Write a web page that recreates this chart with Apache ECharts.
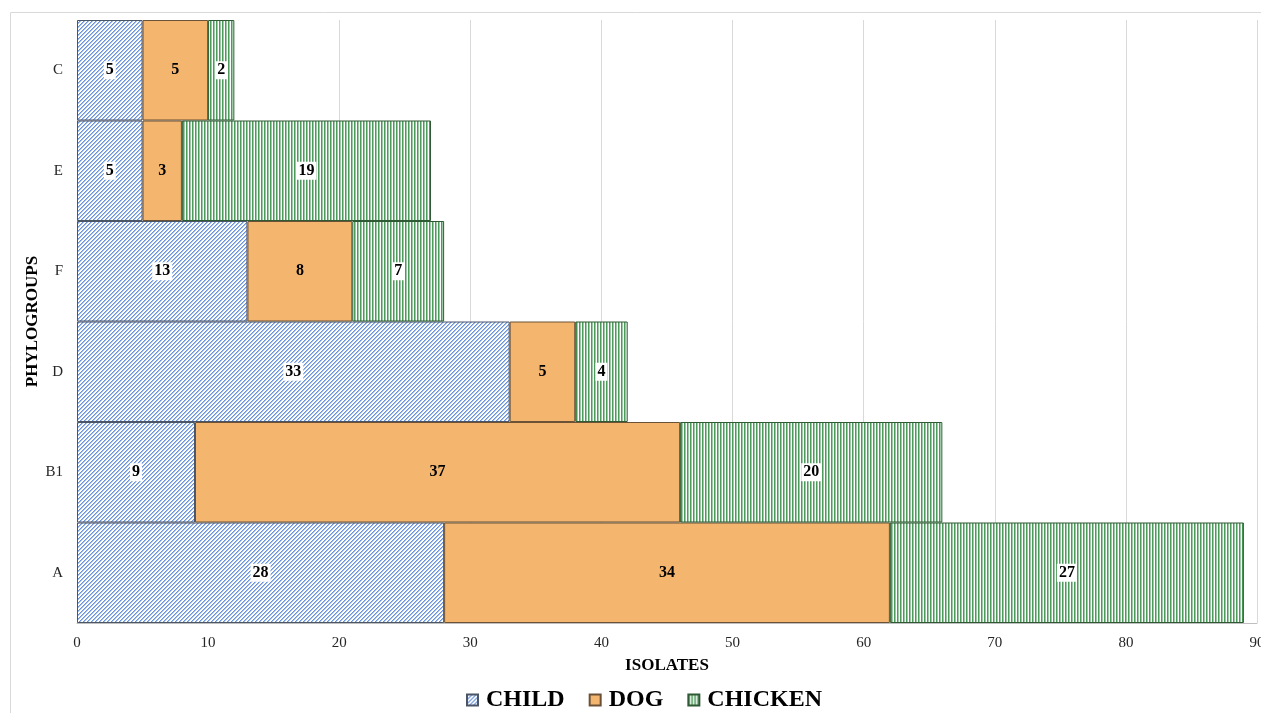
<!DOCTYPE html>
<html><head><meta charset="utf-8">
<script src="https://cdn.jsdelivr.net/npm/echarts@6/dist/echarts.min.js"></script>
<style>html,body{margin:0;padding:0;background:#fff;overflow:hidden}#c{width:1261px;height:713px}</style>
</head><body><div id="c"></div>
<script>
const categories = ['A','B1','D','F','E','C'];
const child = [28, 9, 33, 13, 5, 5];
const dog = [34, 37, 5, 8, 3, 5];
const chicken = [27, 20, 4, 7, 19, 2];
const xTicks = [0,10,20,30,40,50,60,70,80,90];

function diagPattern(){
  const c = document.createElement('canvas'); c.width=4; c.height=4;
  const g = c.getContext('2d');
  g.fillStyle='#ffffff'; g.fillRect(0,0,4,4);
  for(let x=0;x<4;x++)for(let y=0;y<4;y++){
    const k=(x+y)%4;
    if(k===0){g.fillStyle='#6a93da';g.fillRect(x,y,1,1);}
    else if(k===1){g.fillStyle='#a5c0ec';g.fillRect(x,y,1,1);}
  }
  return c;
}
function vertPattern(){
  const c = document.createElement('canvas'); c.width=3; c.height=3;
  const g = c.getContext('2d');
  g.fillStyle='#ffffff'; g.fillRect(0,0,3,3);
  g.fillStyle='#4e9a5c'; g.fillRect(0,0,1,3);
  g.fillStyle='#9ccaa4'; g.fillRect(1,0,1,3);
  return c;
}
const font = 'Liberation Serif';
const chart = echarts.init(document.getElementById('c'));
const lbl = (bg) => ({show:true, position:'inside', color:'#000', fontFamily:font, fontWeight:'bold', fontSize:16,
  backgroundColor:bg, padding:[1,2]});
chart.setOption({
  animation:false,
  graphic:[{type:'rect', silent:true, z:-1, shape:{x:10.5,y:12.5,width:1400,height:800}, style:{fill:'none',stroke:'#d9d9d9',lineWidth:1}}],
  grid:{left:77,right:4,top:20,bottom:90, outerBoundsMode:'none', containLabel:false},
  legend:{top:683, left:461, icon:'rect', itemWidth:11, itemHeight:11, itemGap:24,
    textStyle:{fontFamily:font,fontWeight:'bold',fontSize:24,color:'#000',padding:[0,0,0,3]},
    data:['CHILD','DOG','CHICKEN']},
  xAxis:{type:'value', min:0, max:90, interval:10, name:'ISOLATES', nameLocation:'middle', nameGap:34,
    nameTextStyle:{fontFamily:font,fontWeight:'bold',fontSize:17,color:'#000'},
    axisLine:{show:true,lineStyle:{color:'#bfbfbf'}}, axisTick:{show:false},
    axisLabel:{fontFamily:font,fontSize:15,color:'#262626',margin:13, formatter:(v)=> xTicks.includes(v)? String(v):''},
    splitLine:{show:true,lineStyle:{color:'#d9d9d9'}}},
  yAxis:{type:'category', data:categories, name:'PHYLOGROUPS', nameLocation:'middle', nameGap:36, nameRotate:90,
    nameMoveOverlap:false,
    nameTextStyle:{fontFamily:font,fontWeight:'bold',fontSize:17,color:'#000'},
    axisLine:{show:false}, axisTick:{show:false},
    axisLabel:{fontFamily:font,fontSize:15,color:'#262626',margin:14}},
  series:[
    {name:'CHILD', type:'bar', stack:'s', data:child, barCategoryGap:0,
      itemStyle:{color:{image:diagPattern(),repeat:'repeat'}, borderColor:'#4a5568', borderWidth:1}, label:lbl('#fff')},
    {name:'DOG', type:'bar', stack:'s', data:dog, barCategoryGap:0,
      itemStyle:{color:'#f4b56f', borderColor:'#6b5236', borderWidth:1}, label:lbl(null)},
    {name:'CHICKEN', type:'bar', stack:'s', data:chicken, barCategoryGap:0,
      itemStyle:{color:{image:vertPattern(),repeat:'repeat'}, borderColor:'#2e5a34', borderWidth:1}, label:lbl('#fff')}
  ]
});
</script></body></html>
